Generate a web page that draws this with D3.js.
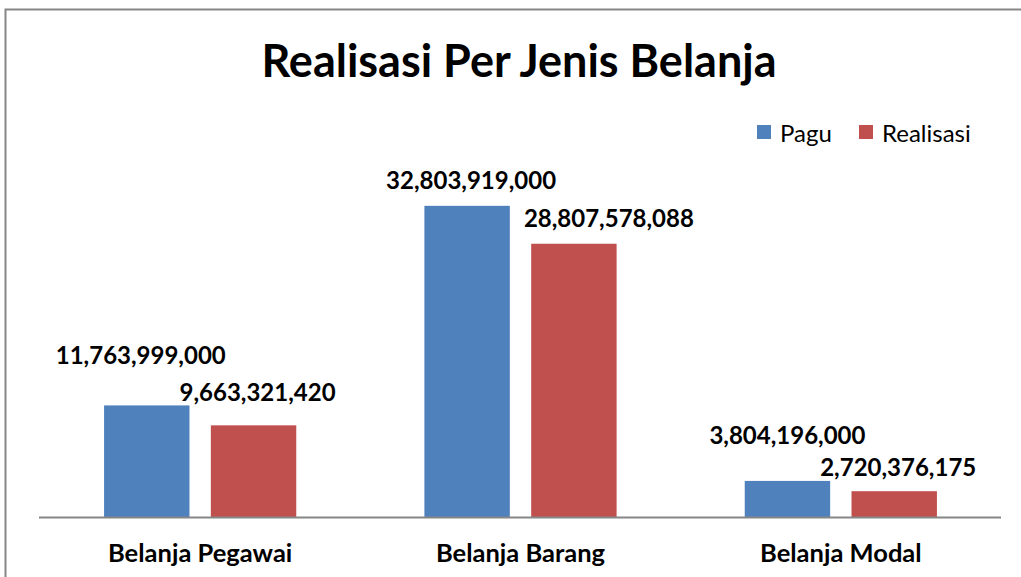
<!DOCTYPE html>
<html><head><meta charset="utf-8">
<script src="https://cdn.jsdelivr.net/npm/d3@7"></script>
<style>body{margin:0;background:#fff}svg{display:block}text{font-family:Lato,"Open Sans",sans-serif}</style>
</head><body>
<svg id="c" width="1021" height="577"></svg>
<script>
const categories = ["Belanja Pegawai", "Belanja Barang", "Belanja Modal"];
const seriesNames = ["Pagu", "Realisasi"];
const pagu = [11763999000, 32803919000, 3804196000];
const realisasi = [9663321420, 28807578088, 2720376175];
const colors = ["#4F81BD", "#C0504D"];
const yMax = 35000000000;

// layout: hand-placed label offsets (dx, dy) relative to bar top-centre, per category & series
const labelOffsets = [
  [[-6,-51],[4,-34]],
  [[4,-26],[35,-26]],
  [[0,-46],[4,-25]]
];

const svg = d3.select("#c");
svg.append("rect").attr("x",5.5).attr("y",9.5).attr("width",1030).attr("height",600)
  .attr("fill","none").attr("stroke","#868686").attr("stroke-width",2);

const plot = {left:40, right:1001, top:185, bottom:517};
const x0 = d3.scaleBand().domain(categories).range([plot.left, plot.right]).paddingInner(0.4).paddingOuter(0.2);
const x1 = d3.scaleBand().domain(seriesNames).range([0, x0.bandwidth()]).paddingInner(0.2);
const y = d3.scaleLinear().domain([0, yMax]).range([plot.bottom, plot.top]);

const data = categories.map((c,i)=>({cat:c, vals:[pagu[i], realisasi[i]]}));

const g = svg.append("g");
data.forEach(d=>{
  d.vals.forEach((v,j)=>{
    g.append("rect")
      .attr("x", x0(d.cat) + x1(seriesNames[j]))
      .attr("y", y(v))
      .attr("width", x1.bandwidth())
      .attr("height", y(0)-y(v))
      .attr("fill", colors[j]);
  });
});

svg.append("line").attr("x1",plot.left-1).attr("x2",plot.right).attr("y1",plot.bottom+0.5).attr("y2",plot.bottom+0.5)
  .attr("stroke","#868686").attr("stroke-width",2);

const fmt = d3.format(",");
data.forEach((d,i)=>{
  d.vals.forEach((v,j)=>{
    const cx = x0(d.cat) + x1(seriesNames[j]) + x1.bandwidth()/2;
    svg.append("text")
      .attr("x", cx + labelOffsets[i][j][0])
      .attr("y", y(v) + labelOffsets[i][j][1])
      .attr("text-anchor","middle")
      .attr("dominant-baseline","central")
      .attr("font-weight","bold").attr("font-size",24).attr("fill","#000")
      .text(fmt(v));
  });
});

const xAxis = d3.axisBottom(x0).tickSize(0).tickPadding(0);
const ax = svg.append("g").attr("transform",`translate(0,${plot.bottom})`).call(xAxis);
ax.select(".domain").remove();
ax.selectAll("text").attr("y",36).attr("dy","0.35em")
  .attr("font-family","Lato, sans-serif").attr("font-weight","bold").attr("font-size",25.5).attr("fill","#000");

svg.append("text").attr("x",519).attr("y",60).attr("text-anchor","middle").attr("dominant-baseline","central")
  .attr("font-weight","bold").attr("font-size",45).attr("fill","#000").text("Realisasi Per Jenis Belanja");

const legend = svg.append("g");
const legX = [757, 859];
seriesNames.forEach((s,j)=>{
  legend.append("rect").attr("x",legX[j]).attr("y",125).attr("width",14).attr("height",14).attr("fill",colors[j]);
  legend.append("text").attr("x",legX[j]+23).attr("y",132).attr("dominant-baseline","central")
    .attr("font-size",24).attr("fill","#000").text(s);
});
</script>
</body></html>
